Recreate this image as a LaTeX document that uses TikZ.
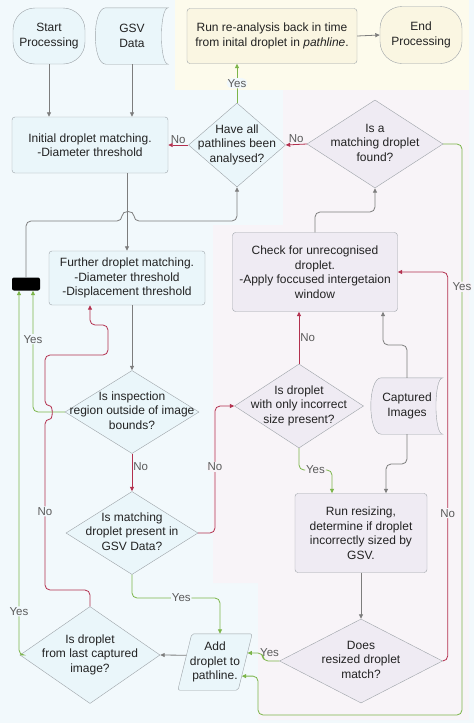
\documentclass[tikz,border=0pt]{standalone}
\usepackage{fontspec}
\setmainfont{Liberation Sans}
\usetikzlibrary{shapes.geometric,arrows.meta,calc,backgrounds}
\definecolor{bgblue}{HTML}{F2F9FC}
\definecolor{bgyellow}{HTML}{FDFBEC}
\definecolor{bgpink}{HTML}{F8F4F8}
\definecolor{nodeblue}{HTML}{EAF6FA}
\definecolor{nodepurple}{HTML}{EFEBF3}
\definecolor{nodeyellow}{HTML}{FAF6E2}
\definecolor{edgegray}{HTML}{9DA3A8}
\definecolor{linegray}{HTML}{7D7D7D}
\definecolor{linered}{HTML}{B3304E}
\definecolor{linegreen}{HTML}{7CB54A}
\definecolor{textdark}{HTML}{222222}
\definecolor{labelgray}{HTML}{5A5A5A}
\newcommand{\dtxt}[1]{\makebox[0pt]{\begin{tabular}{@{}c@{}}#1\end{tabular}}}
\begin{document}
\begin{tikzpicture}
		    [%%%%%%%%%%%%%%%%%%%%%%%%%%%%%%
		        x=1pt, y=-1pt,
		        every node/.style={font=\fontsize{12}{14.5}\selectfont, text=textdark},
		        box/.style={rectangle, draw=edgegray, rounded corners=3pt, align=center, inner sep=2pt},
		        term/.style={rectangle, draw=edgegray, rounded corners=22pt, align=center},
		        stored/.style={rectangle, align=center, inner sep=0pt},
		        dia/.style={diamond, draw=edgegray, inner sep=0pt},
		        blob/.style={rectangle, fill=black, rounded corners=2pt, minimum width=28, minimum height=13, inner sep=0pt},
		        arr/.style={-{Triangle[length=4.5pt,width=4pt]}, line width=0.8pt, rounded corners=5pt},
		        gline/.style={arr, draw=linegray},
		        rline/.style={arr, draw=linered},
		        yline/.style={arr, draw=linegreen},
		        lbl/.style={font=\fontsize{11.5}{13}\selectfont, text=labelgray, inner sep=1pt},
		        lblb/.style={lbl, fill=bgblue},
		        lblp/.style={lbl, fill=bgpink},
		    ]%%%%%%%%%%%%%%%%%%%%%%%%%%%%%%
		\useasboundingbox (0,0) rectangle (474,726);

		\node[term, fill=nodeblue, minimum width=72, minimum height=56] (start) at (49,36) {Start\\Processing};
		\node[stored, minimum width=72, minimum height=56] (gsv) at (132,36) {GSV\\Data};
		\node[box, fill=nodeyellow, minimum width=170, minimum height=55] (rerun) at (272,36) {Run re-analysis back in time\\from inital droplet in \textit{pathline}.};
		\node[term, fill=nodeyellow, minimum width=82, minimum height=57] (finish) at (421,35) {End\\Processing};

		\node[box, fill=nodeblue, minimum width=156, minimum height=56] (init) at (90,145) {Initial droplet matching.\\-Diameter threshold};
		\node[dia, fill=nodeblue, minimum width=97, minimum height=84] (allpath) at (237,145) {\dtxt{Have all\\pathlines been\\analysed?}};
		\node[dia, fill=nodepurple, minimum width=136, minimum height=88] (found) at (375,144) {\dtxt{Is a\\matching droplet\\found?}};

		\node[box, fill=nodeblue, minimum width=156, minimum height=54] (further) at (127,278) {Further droplet matching.\\-Diameter threshold\\-Displacement threshold};
		\node[blob] (blk) at (26,284) {};
		\node[box, fill=nodepurple, minimum width=165, minimum height=79] (check) at (315,272) {Check for unrecognised\\droplet.\\-Apply foccused intergetaion\\window};

		\node[dia, fill=nodeblue, minimum width=134, minimum height=83] (bounds) at (132,412) {\dtxt{Is inspection\\region outside of image\\bounds?}};
		\node[dia, fill=nodepurple, minimum width=129, minimum height=84] (wrongsize) at (299,406) {\dtxt{Is droplet\\with only incorrect\\size present?}};
		\node[stored, minimum width=71, minimum height=56] (capt) at (407,406) {Captured\\Images};

		\node[dia, fill=nodeblue, minimum width=132, minimum height=83] (ingsv) at (132,533) {\dtxt{Is matching\\droplet present in\\GSV Data?}};
		\node[box, fill=nodepurple, minimum width=132, minimum height=79] (resize) at (361,533) {Run resizing,\\determine if droplet\\incorrectly sized by\\GSV.};

		\node[dia, fill=nodeblue, minimum width=140, minimum height=97] (lastimg) at (90,655) {\dtxt{Is droplet\\from last captured\\image?}};
		\node[stored, minimum width=60, minimum height=56] (addpath) at (215,662) {Add\\droplet to\\pathline.};
		\node[dia, fill=nodepurple, minimum width=163, minimum height=84] (resmatch) at (361,661) {\dtxt{Does\\resized droplet\\match?}};

		% areas, stored data and parallelogram shapes
		\begin{scope}[on background layer]
		\fill[bgblue] (0,0) rectangle (474,723);
		\fill[bgyellow] (175,0) rectangle (469,90);
		\fill[bgpink] (283,90) -- (469,90) -- (469,720) -- (258,720) -- (258,583) -- (213,583) -- (213,225) -- (283,225) -- cycle;
		\draw[edgegray, fill=nodeblue] ([xshift=10pt]gsv.north west) -- (gsv.north east) .. controls ([xshift=-9pt]gsv.north east) and ([xshift=-9pt]gsv.south east) .. (gsv.south east) -- ([xshift=10pt]gsv.south west) .. controls ([xshift=-4pt]gsv.south west) and ([xshift=-4pt]gsv.north west) .. ([xshift=10pt]gsv.north west) -- cycle;
		\draw[edgegray, fill=nodepurple] ([xshift=10pt]capt.north west) -- (capt.north east) .. controls ([xshift=-9pt]capt.north east) and ([xshift=-9pt]capt.south east) .. (capt.south east) -- ([xshift=10pt]capt.south west) .. controls ([xshift=-4pt]capt.south west) and ([xshift=-4pt]capt.north west) .. ([xshift=10pt]capt.north west) -- cycle;
		\draw[edgegray, fill=nodeblue, rounded corners=2pt] ([xshift=7pt]addpath.north west) -- ([xshift=7pt]addpath.north east) -- ([xshift=-7pt]addpath.south east) -- ([xshift=-7pt]addpath.south west) -- cycle;
		\end{scope}

		% connectors
		\draw[gline] (start.south) -- (start.south |- init.north);
		\draw[gline] (gsv.south) -- (gsv.south |- init.north);
		\draw[gline] (rerun.east) -- (finish.west);
		\draw[yline] (allpath.north) -- node[lblb, midway]{Yes} (allpath.north |- rerun.south);
		\draw[rline] (allpath.west) -- node[lbl, above, midway]{No} (init.east);
		\draw[rline] (found.west) -- node[lbl, above, midway]{No} (allpath.east);
		\draw[gline] (further.north |- init.south) -- (further.north);
		\draw[gline] (blk.north) |- (122,221) .. controls (122,210) and (134,210) .. (134,221) -| (allpath.south);
		\draw[gline] (check.north) |- (found.south |- 0,212) -- (found.south);
		\draw[yline] (found.east) -- (462,144) -- node[lblp, pos=0.25]{Yes} (462,715) -- (258,715) |- ($([xshift=-7pt]addpath.south east)!0.25!([xshift=7pt]addpath.north east)$);

		\draw[gline] (bounds.north |- further.south) -- (bounds.north);
		\draw[yline] (bounds.west) -| node[lblb, pos=0.8]{Yes} ([xshift=7pt]blk.south);
		\draw[rline] (bounds.south) -- node[lbl, right, pos=0.35]{No} (ingsv.north);
		\draw[rline] (ingsv.east) -- (215,533) -- node[lblp, pos=0.52]{No} (215,406) -- (wrongsize.west);
		\draw[rline] (wrongsize.north) -- node[lbl, right, midway]{No} (wrongsize.north |- check.south);
		\draw[yline] (wrongsize.south) |- node[lblp, pos=0.75]{Yes} ([xshift=-29pt]resize.north |- 0,470) -- ([xshift=-29pt]resize.north);
		\draw[gline] (capt.north) |- ([xshift=68pt]check.south |- 0,345) -- ([xshift=68pt]check.south);
		\draw[gline] (capt.south) |- ([xshift=25pt]resize.north |- 0,464) -- ([xshift=25pt]resize.north);
		\draw[rline] (resmatch.east) -- ++(5,0) |- node[lblp, pos=0.19]{No} (check.east);

		\draw[yline] (ingsv.south) |- node[lblb, pos=0.78]{Yes} ([xshift=5pt]addpath.north |- 0,598) -- ([xshift=5pt]addpath.north);
		\draw[gline] (resize.south) -- (resmatch.north);
		\draw[yline] (resmatch.west) -- node[lbl, above, pos=0.6, yshift=3pt]{Yes} (263,661) |- ($([xshift=-7pt]addpath.south east)!0.66!([xshift=7pt]addpath.north east)$);
		\draw[gline] ($([xshift=-7pt]addpath.south west)!0.62!([xshift=7pt]addpath.north west)$) -- (lastimg.east);
		\draw[yline] (lastimg.west) -| node[lblb, pos=0.56]{Yes} ([xshift=-7pt]blk.south);
		\draw[rline] (lastimg.north) |- (45,590) -- node[lblb, pos=0.46]{No} (45,419) .. controls (53,419) and (53,406) .. (45,406) -- (45,355) -- (108,355) -- (108,325) -- (90,325) -- ([xshift=-37pt]further.south);

		\end{tikzpicture}
\end{document}
